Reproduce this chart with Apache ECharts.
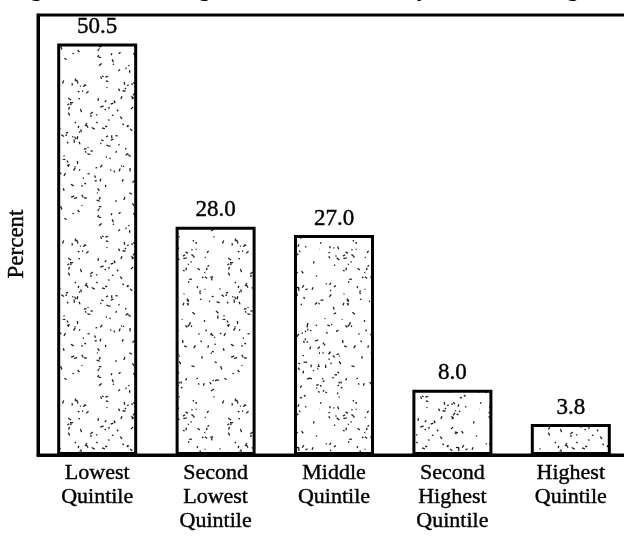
<!DOCTYPE html>
<html>
<head>
<meta charset="utf-8">
<style>
  html, body { margin: 0; padding: 0; background: #fff; }
  #chart { width: 624px; height: 542px; }
</style>
<script src="https://cdn.jsdelivr.net/npm/echarts@6/dist/echarts.min.js"></script>
</head>
<body>
<div id="chart"></div>
<script>
// Income quintiles and the share (percent) in each
const categories = [
  'Lowest\nQuintile',
  'Second\nLowest\nQuintile',
  'Middle\nQuintile',
  'Second\nHighest\nQuintile',
  'Highest\nQuintile'
];
const percentValues = [50.5, 28.0, 27.0, 8.0, 3.8];
const titleText = 'Figure 4. Percentage with less than ten years schooling';

// Stippled fill: a tile of short dark specks placed by a fixed hash
function makeStipple() {
  const size = 160;
  const c = document.createElement('canvas');
  c.width = size; c.height = size;
  const g = c.getContext('2d');
  g.fillStyle = '#ffffff';
  g.fillRect(0, 0, size, size);
  g.strokeStyle = '#222222';
  g.lineWidth = 1.3;
  let h = 98765;
  const next = () => { h = (h * 1103515245 + 12345) & 0x7fffffff; return h / 0x7fffffff; };
  for (let i = 0; i < 340; i++) {
    const x = next() * size, y = next() * size;
    const a = next() * Math.PI * 2, len = 1 + next() * 2.5;
    g.beginPath();
    g.moveTo(x, y);
    g.lineTo(x + Math.cos(a) * len, y + Math.sin(a) * len);
    g.stroke();
  }
  return c;
}

const serif = '"Liberation Serif", "DejaVu Serif", serif';
const ink = { textBorderColor: '#000', textBorderWidth: 0.4 };
const chart = echarts.init(document.getElementById('chart'), null, { renderer: 'canvas' });

chart.setOption({
  animation: false,
  backgroundColor: '#ffffff',
  graphic: [{
    type: 'text',
    left: 8,
    top: -24,
    style: { text: titleText, font: '26px ' + serif, fill: '#000' }
  }],
  grid: {
    left: 38, top: 15, width: 592, height: 440,
    outerBoundsMode: 'none',
    containLabel: false,
    show: true, borderColor: '#000', borderWidth: 3, backgroundColor: 'transparent'
  },
  xAxis: {
    type: 'category',
    data: categories,
    axisLine: { show: true, lineStyle: { color: '#000', width: 3 } },
    axisTick: { show: false },
    axisLabel: Object.assign({
      interval: 0, color: '#000', fontFamily: serif, fontSize: 22,
      lineHeight: 24, margin: 6
    }, ink)
  },
  yAxis: {
    type: 'value',
    min: 0, max: 54,
    name: 'Percent',
    nameLocation: 'middle',
    nameGap: 10,
    nameTextStyle: Object.assign({
      color: '#000', fontFamily: serif, fontSize: 23, padding: [0, 18, 0, 0]
    }, ink),
    axisLine: { show: true, lineStyle: { color: '#000', width: 3 } },
    axisTick: { show: false },
    axisLabel: { show: false },
    splitLine: { show: false }
  },
  series: [{
    type: 'bar',
    data: percentValues,
    barWidth: 80,
    itemStyle: {
      color: { image: makeStipple(), repeat: 'repeat' },
      borderColor: '#000',
      borderWidth: 3
    },
    label: Object.assign({
      show: true, position: 'top', distance: 5,
      color: '#000', fontFamily: serif, fontSize: 23,
      formatter: p => p.value.toFixed(1)
    }, ink)
  }]
});
</script>
</body>
</html>
